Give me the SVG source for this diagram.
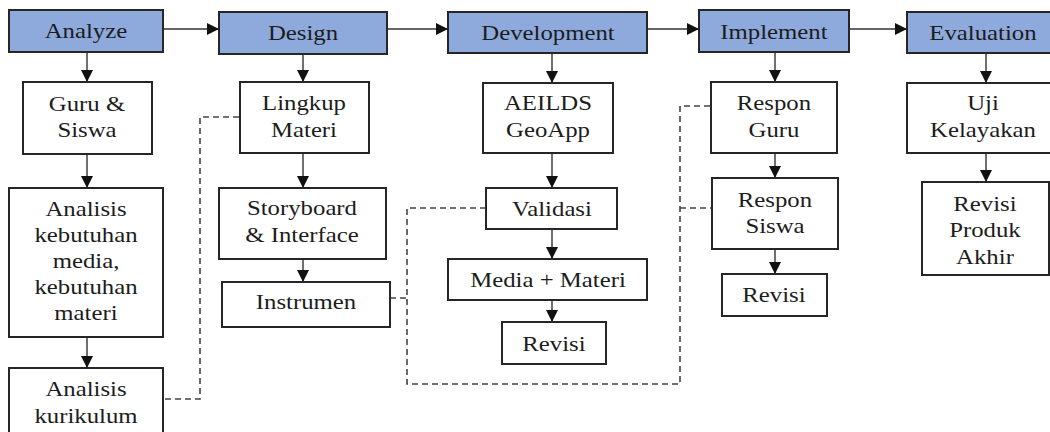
<svg xmlns="http://www.w3.org/2000/svg" width="1050" height="432" viewBox="0 0 1050 432">
<style>
.b{fill:#fff;stroke:#262626;stroke-width:2}
.h{fill:#8eaadc;stroke:#262626;stroke-width:2}
.t{font-size:21px;text-anchor:middle;fill:#1c1c1c}
.c{fill:none;stroke:#333;stroke-width:1.4}
.d{fill:none;stroke:#444;stroke-width:1.6;stroke-dasharray:6 4}
</style>
<defs>
<marker id="ar" markerUnits="userSpaceOnUse" markerWidth="12" markerHeight="12" refX="12" refY="6" orient="auto">
<path d="M0,0 L12,6 L0,12 z" fill="#111"/>
</marker>
</defs>
<rect width="1050" height="432" fill="#fff"/>
<g id="connectors">
<path class="c" marker-end="url(#ar)" d="M163,29 H219"/>
<path class="c" marker-end="url(#ar)" d="M387,29 H448"/>
<path class="c" marker-end="url(#ar)" d="M647,29 H699"/>
<path class="c" marker-end="url(#ar)" d="M849,29 H907"/>
<path class="c" marker-end="url(#ar)" d="M87,52 V82"/>
<path class="c" marker-end="url(#ar)" d="M87,154 V188"/>
<path class="c" marker-end="url(#ar)" d="M87,337 V368"/>
<path class="c" marker-end="url(#ar)" d="M303,54 V82"/>
<path class="c" marker-end="url(#ar)" d="M303,153 V188"/>
<path class="c" marker-end="url(#ar)" d="M303,259 V282"/>
<path class="c" marker-end="url(#ar)" d="M552,53 V83"/>
<path class="c" marker-end="url(#ar)" d="M552,153 V188"/>
<path class="c" marker-end="url(#ar)" d="M552,229 V259"/>
<path class="c" marker-end="url(#ar)" d="M552,300 V322"/>
<path class="c" marker-end="url(#ar)" d="M775,52 V82"/>
<path class="c" marker-end="url(#ar)" d="M775,153 V178"/>
<path class="c" marker-end="url(#ar)" d="M775,249 V274"/>
<path class="c" marker-end="url(#ar)" d="M986,53 V83"/>
<path class="c" marker-end="url(#ar)" d="M986,153 V182"/>
<path class="d" d="M239,117 H200 V399 H163"/>
<path class="d" d="M486,208 H407 V384 H680 V106 H711"/>
<path class="d" d="M390,298 H407"/>
<path class="d" d="M680,208 H712"/>
</g>
<g font-family="Liberation Serif, Times New Roman, serif">
<g id="analyze"><rect class="h" x="9" y="10" width="154" height="42"/><text class="t" transform="translate(86 0) scale(1.18 1) translate(-86 0)" x="86" y="38">Analyze</text></g>
<g id="design"><rect class="h" x="219" y="12" width="168" height="42"/><text class="t" transform="translate(303 0) scale(1.18 1) translate(-303 0)" x="303" y="40">Design</text></g>
<g id="development"><rect class="h" x="448" y="12" width="199" height="41"/><text class="t" transform="translate(548 0) scale(1.18 1) translate(-548 0)" x="548" y="40">Development</text></g>
<g id="implement"><rect class="h" x="699" y="10" width="150" height="42"/><text class="t" transform="translate(774 0) scale(1.18 1) translate(-774 0)" x="774" y="39">Implement</text></g>
<g id="evaluation"><rect class="h" x="907" y="12" width="152" height="41"/><text class="t" transform="translate(983 0) scale(1.18 1) translate(-983 0)" x="983" y="40">Evaluation</text></g>
<g id="guru-siswa"><rect class="b" x="23" y="82" width="129" height="72"/><text class="t" transform="translate(87 0) scale(1.18 1) translate(-87 0)" x="87" y="111"><tspan x="87">Guru &amp;</tspan><tspan x="87" y="137">Siswa</tspan></text></g>
<g id="analisis-kebutuhan"><rect class="b" x="9" y="188" width="154" height="149"/><text class="t" transform="translate(86 0) scale(1.18 1) translate(-86 0)" x="86" y="216"><tspan x="86">Analisis</tspan><tspan x="86" y="242">kebutuhan</tspan><tspan x="86" y="268">media,</tspan><tspan x="86" y="294">kebutuhan</tspan><tspan x="86" y="320">materi</tspan></text></g>
<g id="analisis-kurikulum"><rect class="b" x="9" y="368" width="154" height="80"/><text class="t" transform="translate(86 0) scale(1.18 1) translate(-86 0)" x="86" y="396"><tspan x="86">Analisis</tspan><tspan x="86" y="423">kurikulum</tspan></text></g>
<g id="lingkup-materi"><rect class="b" x="240" y="82" width="129" height="71"/><text class="t" transform="translate(304 0) scale(1.18 1) translate(-304 0)" x="304" y="110"><tspan x="304">Lingkup</tspan><tspan x="304" y="137">Materi</tspan></text></g>
<g id="storyboard"><rect class="b" x="219" y="188" width="167" height="71"/><text class="t" transform="translate(302 0) scale(1.18 1) translate(-302 0)" x="302" y="215"><tspan x="302">Storyboard</tspan><tspan x="302" y="242">&amp; Interface</tspan></text></g>
<g id="instrumen"><rect class="b" x="222" y="282" width="168" height="45"/><text class="t" transform="translate(306 0) scale(1.18 1) translate(-306 0)" x="306" y="309">Instrumen</text></g>
<g id="aeilds"><rect class="b" x="483" y="83" width="130" height="70"/><text class="t" transform="translate(548 0) scale(1.18 1) translate(-548 0)" x="548" y="110"><tspan x="548">AEILDS</tspan><tspan x="548" y="137">GeoApp</tspan></text></g>
<g id="validasi"><rect class="b" x="486" y="188" width="131" height="41"/><text class="t" transform="translate(552 0) scale(1.18 1) translate(-552 0)" x="552" y="216">Validasi</text></g>
<g id="media-materi"><rect class="b" x="448" y="259" width="199" height="41"/><text class="t" transform="translate(548 0) scale(1.18 1) translate(-548 0)" x="548" y="287">Media + Materi</text></g>
<g id="revisi-dev"><rect class="b" x="502" y="322" width="104" height="42"/><text class="t" transform="translate(554 0) scale(1.18 1) translate(-554 0)" x="554" y="351">Revisi</text></g>
<g id="respon-guru"><rect class="b" x="711" y="82" width="126" height="71"/><text class="t" transform="translate(774 0) scale(1.18 1) translate(-774 0)" x="774" y="110"><tspan x="774">Respon</tspan><tspan x="774" y="137">Guru</tspan></text></g>
<g id="respon-siswa"><rect class="b" x="712" y="178" width="126" height="71"/><text class="t" transform="translate(775 0) scale(1.18 1) translate(-775 0)" x="775" y="207"><tspan x="775">Respon</tspan><tspan x="775" y="233">Siswa</tspan></text></g>
<g id="revisi-impl"><rect class="b" x="722" y="274" width="105" height="42"/><text class="t" transform="translate(774 0) scale(1.18 1) translate(-774 0)" x="774" y="302">Revisi</text></g>
<g id="uji-kelayakan"><rect class="b" x="907" y="83" width="152" height="70"/><text class="t" transform="translate(983 0) scale(1.18 1) translate(-983 0)" x="983" y="110"><tspan x="983">Uji</tspan><tspan x="983" y="137">Kelayakan</tspan></text></g>
<g id="revisi-produk"><rect class="b" x="922" y="182" width="127" height="93"/><text class="t" transform="translate(985 0) scale(1.18 1) translate(-985 0)" x="985" y="211"><tspan x="985">Revisi</tspan><tspan x="985" y="237">Produk</tspan><tspan x="985" y="264">Akhir</tspan></text></g>
</g>
</svg>
